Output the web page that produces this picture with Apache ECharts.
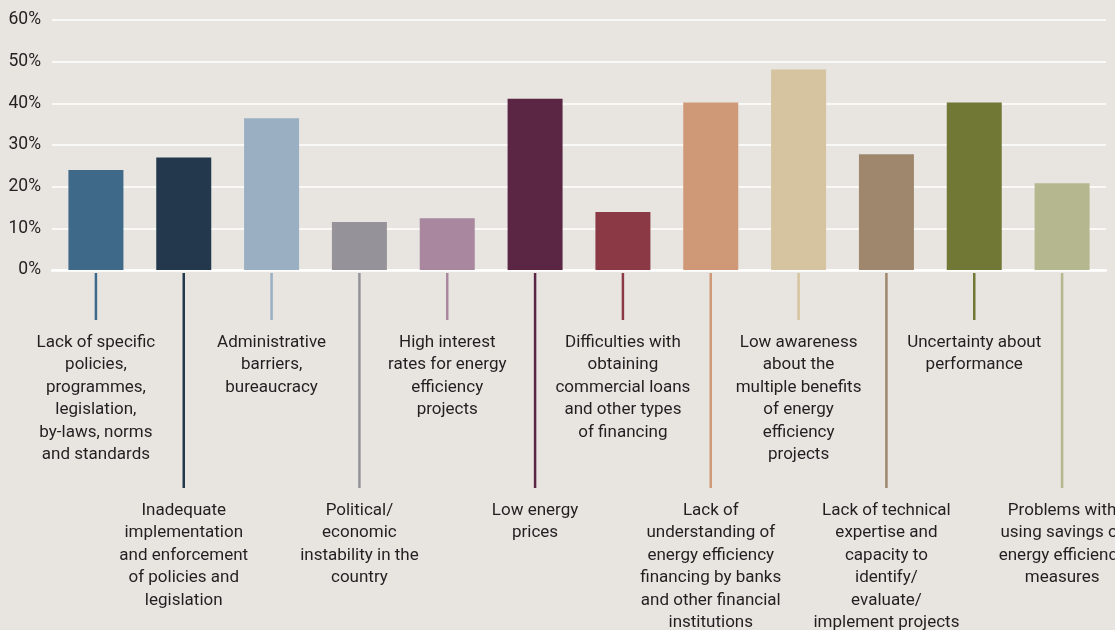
<!DOCTYPE html>
<html>
<head>
<meta charset="utf-8">
<script src="https://cdn.jsdelivr.net/npm/echarts@6/dist/echarts.min.js"></script>
<style>
  html, body { margin: 0; padding: 0; background: #e8e5e1; }
  #chart { width: 1115px; height: 630px; }
</style>
</head>
<body>
<div id="chart"></div>
<script>
// Barriers to energy efficiency investment (share of respondents)
const categories = [
  'Lack of specific\npolicies,\nprogrammes,\nlegislation,\nby-laws, norms\nand standards',
  'Inadequate\nimplementation\nand enforcement\nof policies and\nlegislation',
  'Administrative\nbarriers,\nbureaucracy',
  'Political/\neconomic\ninstability in the\ncountry',
  'High interest\nrates for energy\nefficiency\nprojects',
  'Low energy\nprices',
  'Difficulties with\nobtaining\ncommercial loans\nand other types\nof financing',
  'Lack of\nunderstanding of\nenergy efficiency\nfinancing by banks\nand other financial\ninstitutions',
  'Low awareness\nabout the\nmultiple benefits\nof energy\nefficiency\nprojects',
  'Lack of technical\nexpertise and\ncapacity to\nidentify/\nevaluate/\nimplement projects',
  'Uncertainty about\nperformance',
  'Problems with\nusing savings of\nenergy efficiency\nmeasures'
];
const values = [24, 27, 36.4, 11.5, 12.4, 41.1, 13.9, 40.2, 48.1, 27.8, 40.2, 20.8];
const barColors = [
  '#3f6989', '#23384c', '#9bafc3', '#959399', '#a8879f', '#5a2644',
  '#8c3946', '#cf9876', '#d5c49f', '#9e876c', '#717734', '#b5b78e'
];
const yTicks = [0, 10, 20, 30, 40, 50, 60];

const textColor = '#231f20';
const fontFamily = 'Roboto, "Liberation Sans", sans-serif';

const chart = echarts.init(document.getElementById('chart'));

chart.setOption({
  backgroundColor: '#e8e5e1',
  animation: false,
  grid: { left: 52, right: 9, top: 20, bottom: 360 },
  xAxis: {
    type: 'category',
    data: categories,
    axisLine: { show: true, lineStyle: { color: '#ffffff', width: 2.5 } },
    axisTick: { show: false },
    axisLabel: { show: false }
  },
  yAxis: {
    type: 'value',
    min: yTicks[0],
    max: yTicks[yTicks.length - 1],
    interval: 10,
    axisLine: { show: false },
    axisTick: { show: false },
    splitLine: { lineStyle: { color: '#ffffff', width: 1.5 } },
    axisLabel: {
      formatter: v => v + '%',
      color: textColor,
      fontSize: 17.5,
      fontFamily: fontFamily,
      margin: 11
    }
  },
  series: [
    {
      type: 'bar',
      barWidth: 55,
      data: values.map((v, i) => ({ value: v, itemStyle: { color: barColors[i] } })),
      z: 3
    },
    {
      // leader lines and category captions below the axis
      type: 'custom',
      clip: false,
      silent: true,
      data: categories.map((c, i) => [i, 0]),
      renderItem: function (params, api) {
        const idx = api.value(0);
        const p = api.coord([idx, 0]);
        const long = idx % 2 === 1;
        const lineEnd = long ? 218 : 50;
        const textTop = long ? 229 : 61;
        return {
          type: 'group',
          children: [
            {
              type: 'line',
              shape: { x1: p[0], y1: p[1] + 3, x2: p[0], y2: p[1] + lineEnd },
              style: { stroke: barColors[idx], lineWidth: 2.5 }
            },
            {
              type: 'text',
              x: p[0],
              y: p[1] + textTop,
              style: {
                text: categories[idx],
                align: 'center',
                verticalAlign: 'top',
                fill: textColor,
                fontSize: 17,
                lineHeight: 22.5,
                fontFamily: fontFamily
              }
            }
          ]
        };
      }
    }
  ]
});
</script>
</body>
</html>
